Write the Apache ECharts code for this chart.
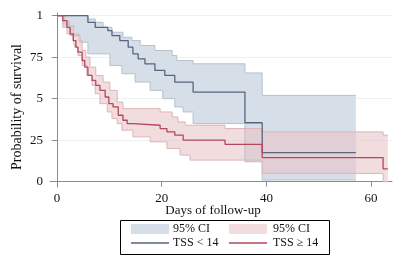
<!DOCTYPE html>
<html>
<head>
<meta charset="utf-8">
<script src="https://cdn.jsdelivr.net/npm/echarts@6/dist/echarts.min.js"></script>
<style>
  html, body { margin: 0; padding: 0; background: #fff; }
  #chart { width: 399px; height: 262px; }
</style>
</head>
<body>
<div id="chart"></div>
<script>
// Kaplan-Meier steps: [day the step starts], value held until next step
const blueDays = [0, 5.9, 7.3, 9.7, 10.5, 12.0, 13.6, 14.5, 15.5, 16.8, 18.7, 20.6, 22.5, 26.0, 35.9, 39.2];
const blueSurv = [1, 0.96, 0.93, 0.91, 0.88, 0.85, 0.81, 0.77, 0.74, 0.71, 0.67, 0.64, 0.60, 0.54, 0.355, 0.175];
const blueEnd = 57.1;

const blueLoDays = [0, 1.1, 2.5, 4.4, 5.9, 10.1, 12.4, 14.9, 17.8, 20.2, 22.5, 24.1, 26.0, 35.9, 39.2];
const blueLo = [1, 0.93, 0.88, 0.84, 0.77, 0.70, 0.65, 0.60, 0.55, 0.50, 0.45, 0.42, 0.35, 0.12, 0.01];
const blueHiDays = [0, 5.9, 7.3, 8.8, 10.5, 12.6, 14.3, 15.9, 18.7, 22.0, 22.9, 26.0, 35.9, 39.2];
const blueHi = [1, 0.98, 0.96, 0.93, 0.90, 0.87, 0.85, 0.82, 0.79, 0.76, 0.73, 0.71, 0.655, 0.52];

const redDays = [0, 1.1, 1.9, 2.5, 3.1, 3.6, 4.0, 4.8, 5.3, 5.9, 6.7, 7.4, 8.2, 9.2, 9.9, 10.7, 11.7, 12.6, 13.4, 14.5, 19.7, 21.0, 22.5, 24.1, 32.1, 39.2, 62.3];
const redSurv = [1, 0.97, 0.93, 0.89, 0.85, 0.81, 0.78, 0.73, 0.69, 0.64, 0.61, 0.58, 0.55, 0.51, 0.47, 0.45, 0.40, 0.37, 0.35, 0.34, 0.32, 0.30, 0.28, 0.25, 0.225, 0.145, 0.077];
const redEnd = 63.2;

const redLoDays = [0, 1.1, 1.9, 3.1, 3.4, 4.0, 4.8, 5.7, 6.7, 7.3, 8.2, 9.6, 10.5, 11.5, 12.4, 14.5, 17.8, 21.0, 23.5, 25.4, 39.2, 62.3];
const redLo = [1, 0.95, 0.89, 0.85, 0.81, 0.76, 0.70, 0.64, 0.58, 0.53, 0.47, 0.42, 0.38, 0.35, 0.31, 0.27, 0.24, 0.20, 0.16, 0.13, 0.05, 0.0];
const redHiDays = [0, 1.5, 2.3, 3.2, 4.2, 4.8, 5.5, 6.3, 7.4, 8.8, 10.1, 11.5, 12.6, 19.7, 22.0, 23.1, 24.5, 32.1, 39.2, 62.3];
const redHi = [1, 0.97, 0.94, 0.89, 0.85, 0.79, 0.75, 0.69, 0.64, 0.60, 0.55, 0.48, 0.44, 0.42, 0.39, 0.36, 0.34, 0.32, 0.30, 0.28];

const xTicks = [0, 20, 40, 60];
const yTicks = [0, 0.25, 0.5, 0.75, 1];
const yTickLabels = ['0', '25', '5', '75', '1'];

const FONT = 'Liberation Serif';
const BLUE_LINE = '#56657f', BLUE_FILL = '#d6dfe8', BLUE_EDGE = '#b6c1cd';
const RED_LINE = '#b4475b', RED_FILL = 'rgba(232,197,200,0.6)', RED_EDGE = '#dfb4b9';

function stepPoints(days, vals, end) {
    let pts = [];
    for (let i = 0; i < days.length; i++) {
        let next = i + 1 < days.length ? days[i + 1] : end;
        pts.push([days[i], vals[i]], [next, vals[i]]);
    }
    return pts;
}

function stepData(days, vals, end) {
    return days.map((d, i) => [d, vals[i]]).concat([[end, vals[vals.length - 1]]]);
}

function bandSeries(loDays, lo, hiDays, hi, end, fill) {
    let poly = stepPoints(hiDays, hi, end).concat(stepPoints(loDays, lo, end).reverse());
    return {
        type: 'custom',
        silent: true,
        data: [[0, 0]],
        renderItem: function (params, api) {
            return {
                type: 'polygon',
                shape: { points: poly.map(p => api.coord(p)) },
                style: { fill: fill }
            };
        }
    };
}

function lineSeries(days, vals, end, color, width) {
    return {
        type: 'line',
        step: 'end',
        symbol: 'none',
        silent: true,
        data: stepData(days, vals, end),
        lineStyle: { color: color, width: width }
    };
}

let chart = echarts.init(document.getElementById('chart'), null, { renderer: 'canvas' });
let option = {
    animation: false,
    backgroundColor: '#fff',
    grid: { left: 50, right: 7, top: 13, bottom: 75 },
    xAxis: {
        type: 'value',
        min: -1.34,
        max: 64,
        axisLine: { show: true, lineStyle: { color: '#8c8c8c', width: 1 } },
        axisTick: { show: true, customValues: xTicks, length: 5, lineStyle: { color: '#8c8c8c' } },
        axisLabel: { customValues: xTicks, margin: 5, fontFamily: FONT, fontSize: 13, color: '#111' },
        splitLine: { show: false }
    },
    yAxis: {
        type: 'value',
        min: -0.032,
        max: 1.016,
        axisLine: { show: true, lineStyle: { color: '#8c8c8c', width: 1 } },
        axisTick: { show: true, customValues: yTicks, length: 5, lineStyle: { color: '#8c8c8c' } },
        axisLabel: {
            customValues: yTicks,
            margin: 7,
            fontFamily: FONT,
            fontSize: 13,
            color: '#111',
            formatter: v => yTickLabels[yTicks.indexOf(v)]
        },
        splitLine: { show: true, lineStyle: { color: '#eef1f4', width: 1 } }
    },
    series: [
        bandSeries(blueLoDays, blueLo, blueHiDays, blueHi, blueEnd, BLUE_FILL),
        bandSeries(redLoDays, redLo, redHiDays, redHi, redEnd, RED_FILL),
        lineSeries(blueLoDays, blueLo, blueEnd, BLUE_EDGE, 1),
        lineSeries(blueHiDays, blueHi, blueEnd, BLUE_EDGE, 1),
        lineSeries(redLoDays, redLo, redEnd, RED_EDGE, 1),
        lineSeries(redHiDays, redHi, redEnd, RED_EDGE, 1),
        lineSeries(blueDays, blueSurv, blueEnd, BLUE_LINE, 1.3),
        lineSeries(redDays, redSurv, redEnd, RED_LINE, 1.3)
    ],
    // axis titles and legend box drawn by hand (two legend entries share the name "95% CI")
    graphic: [
        { type: 'text', x: 17, y: 107, rotation: Math.PI / 2, style: { text: 'Probability of survival', font: '14px "Liberation Serif"', fill: '#111', align: 'center', verticalAlign: 'middle' } },
        { type: 'text', x: 213, y: 211, style: { text: 'Days of follow-up', font: '13px "Liberation Serif"', fill: '#111', align: 'center', verticalAlign: 'middle' } },
        { type: 'rect', shape: { x: 120.5, y: 220.5, width: 209, height: 34 }, style: { fill: '#fff', stroke: '#000', lineWidth: 1 } },
        { type: 'rect', shape: { x: 131, y: 224, width: 38, height: 10 }, style: { fill: BLUE_FILL } },
        { type: 'text', x: 173, y: 229, style: { text: '95% CI', font: '12px "Liberation Serif"', fill: '#111', verticalAlign: 'middle' } },
        { type: 'rect', shape: { x: 229, y: 224, width: 38, height: 10 }, style: { fill: '#f1dcde' } },
        { type: 'text', x: 273, y: 229, style: { text: '95% CI', font: '12px "Liberation Serif"', fill: '#111', verticalAlign: 'middle' } },
        { type: 'line', shape: { x1: 131, y1: 243, x2: 169, y2: 243 }, style: { stroke: BLUE_LINE, lineWidth: 1.3 } },
        { type: 'text', x: 173, y: 243, style: { text: 'TSS < 14', font: '12px "Liberation Serif"', fill: '#111', verticalAlign: 'middle' } },
        { type: 'line', shape: { x1: 229, y1: 243, x2: 267, y2: 243 }, style: { stroke: RED_LINE, lineWidth: 1.3 } },
        { type: 'text', x: 273, y: 243, style: { text: 'TSS ≥ 14', font: '12px "Liberation Serif"', fill: '#111', verticalAlign: 'middle' } }
    ]
};
chart.setOption(option);
</script>
</body>
</html>
